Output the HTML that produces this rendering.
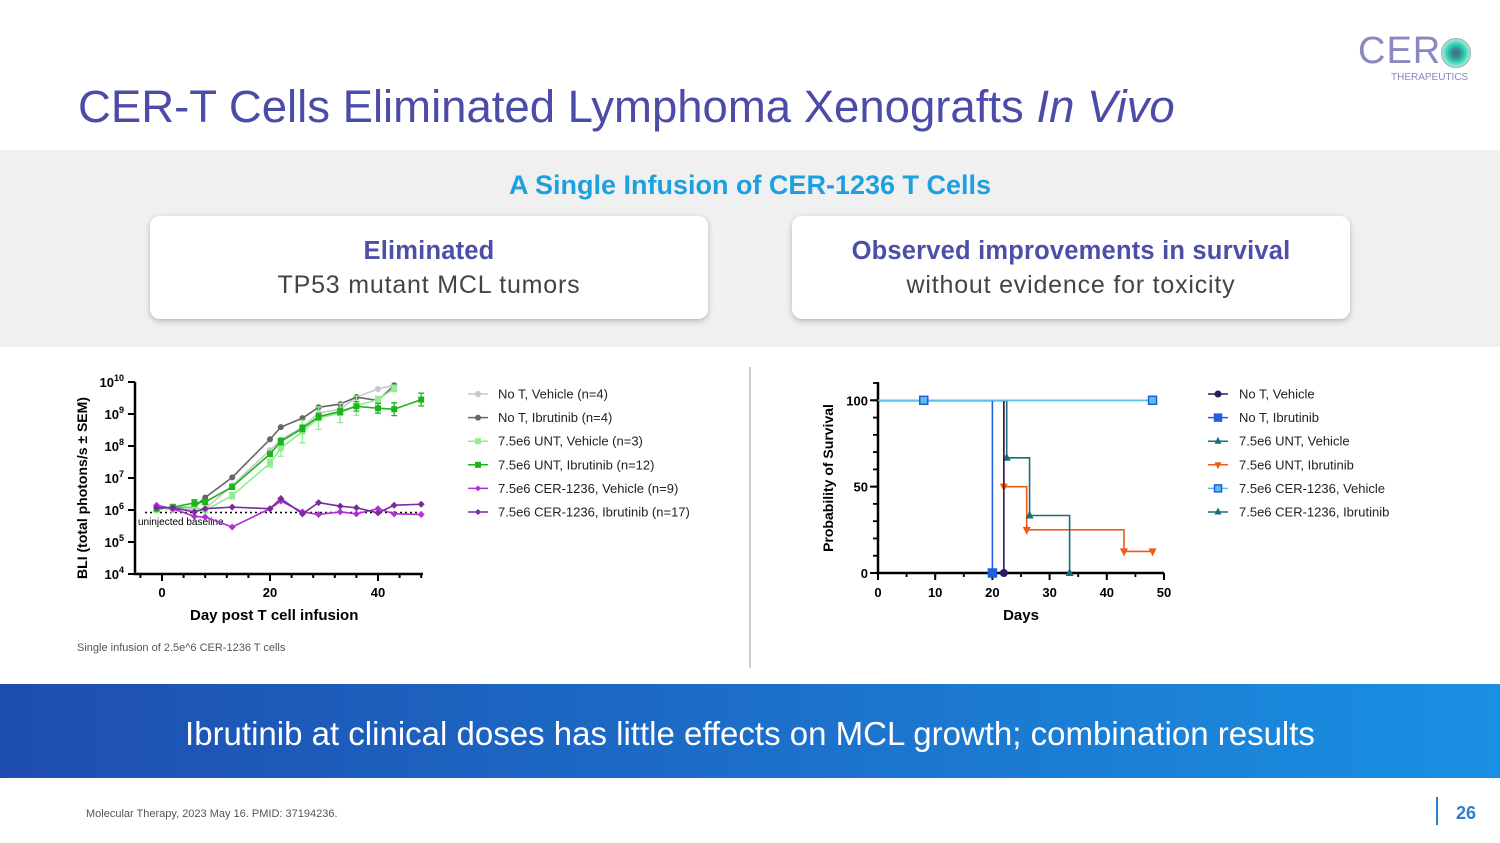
<!DOCTYPE html>
<html><head><meta charset="utf-8">
<style>
body{margin:0;width:1500px;height:843px;position:relative;background:#fff;font-family:"Liberation Sans",sans-serif;overflow:hidden}
.abs{position:absolute}
.card{position:absolute;top:216px;height:103px;width:558px;background:#fff;border-radius:10px;box-shadow:0 2px 6px rgba(0,0,0,.25);text-align:center}
.card .t{color:#4b4fa8;font-weight:bold;font-size:25.5px;margin-top:21px;letter-spacing:0.2px}
.card .s{color:#444;font-size:25px;margin-top:5px;letter-spacing:0.8px}
</style></head><body>
<div class="abs" style="left:78px;top:81px;font-size:45.5px;color:#4b4ba8">CER-T Cells Eliminated Lymphoma Xenografts <i>In Vivo</i></div>
<div class="abs" style="left:1358px;top:34px;width:120px;height:50px">
 <div style="position:absolute;left:0;top:-4px;font-size:38px;color:#8a88c0;letter-spacing:1px">CER</div>
 <div style="position:absolute;left:83px;top:4px;width:28px;height:28px;border-radius:50%;background:radial-gradient(circle,#3a7a8a 15%,#2fd0b0 45%,#bff0e6 75%,#fff 100%);border:1px solid #9aa"></div>
 <div style="position:absolute;left:33px;top:38px;font-size:10px;color:#8a88c0">THERAPEUTICS</div>
</div>
<div class="abs" style="left:0;top:150px;width:1500px;height:197px;background:#f0f0f0"></div>
<div class="abs" style="left:0;top:170px;width:1500px;text-align:center;font-size:27px;font-weight:bold;color:#1ea0e0">A Single Infusion of CER-1236 T Cells</div>
<div class="card" style="left:150px"><div class="t">Eliminated</div><div class="s">TP53 mutant MCL tumors</div></div>
<div class="card" style="left:792px"><div class="t">Observed improvements in survival</div><div class="s">without evidence for toxicity</div></div>
<div class="abs" style="left:749px;top:367px;width:2px;height:301px;background:#ccc"></div>

<svg class="abs" style="left:0;top:0" width="1500" height="843" font-family="Liberation Sans, sans-serif">
<g id="bli"></g>
<g id="surv"></g>
</svg>
<div class="abs" style="left:77px;top:642px;font-size:11px;color:#555">Single infusion of 2.5e^6 CER-1236 T cells</div>
<div class="abs" style="left:0;top:684px;width:1500px;height:94px;background:linear-gradient(90deg,#1e4db0,#1a90e2);color:#fff;font-size:33px;text-align:center;line-height:100px">Ibrutinib at clinical doses has little effects on MCL growth; combination results</div>
<div class="abs" style="left:86px;top:808px;font-size:11px;color:#555">Molecular Therapy, 2023 May 16. PMID: 37194236.</div>
<div class="abs" style="left:1436px;top:797px;width:2px;height:28px;background:#2a7fd0"></div>
<div class="abs" style="left:1456px;top:803px;font-size:18px;font-weight:bold;color:#2a7fd0">26</div>
<script>
const days=[-1,2,6,8,13,20,22,26,29,33,36,40,43,48];
const noTVeh=[6.1,5.99,6.04,6.04,6.77,7.87,8.19,8.59,9.03,9.15,9.53,9.78,9.9,null];
const noTIbr=[6.07,6.07,6.09,6.39,7.02,8.21,8.59,8.87,9.21,9.31,9.53,9.42,9.9,null];
const untVeh=[5.99,6.11,6.09,5.99,6.45,7.46,7.93,8.45,8.87,9.03,9.26,9.45,9.8,null];
const untIbr=[6.04,6.09,6.22,6.25,6.72,7.75,8.14,8.55,8.92,9.08,9.24,9.18,9.15,9.45];
const cerVeh=[6.15,6.04,5.8,5.78,5.47,6.04,6.28,5.94,5.86,5.94,5.88,6.04,5.88,5.86];
const cerIbr=[6.07,6.07,5.94,6.04,6.09,6.04,6.36,5.88,6.23,6.12,6.07,5.91,6.15,6.18];
const untVehErr=[0.05,0.05,0.05,0.05,0.1,0.12,0.25,0.35,0.35,0.3,0.3,0.1,0.1,0];
const untIbrErr=[0.05,0.05,0.1,0.08,0.08,0.08,0.1,0.1,0.1,0.1,0.15,0.15,0.2,0.2];
const baselineLog=5.92;
const bliXTicks=[0,20,40];
const bliYTicks=[4,5,6,7,8,9,10];
const NS='http://www.w3.org/2000/svg';
function mk(p,t,a,txt){const e=document.createElementNS(NS,t);for(const k in a)e.setAttribute(k,a[k]);if(txt!=null)e.textContent=txt;p.appendChild(e);return e;}
const bx=d=>162+d*5.4, by=l=>574-(l-4)*32;
const g=document.getElementById('bli');
let ax=mk(g,'path',{d:`M135 382V574H423`,stroke:'#000','stroke-width':2.5,fill:'none'});

for(let d=-4;d<=48;d+=4){mk(g,'line',{x1:bx(d),x2:bx(d),y1:574,y2:578,stroke:'#000','stroke-width':2});}
bliXTicks.forEach(t=>{mk(g,'line',{x1:bx(t),x2:bx(t),y1:574,y2:581,stroke:'#000','stroke-width':2});
 const e=mk(g,'text',{x:bx(t),y:597,'text-anchor':'middle','font-size':13,'font-weight':'bold'},t);});
bliYTicks.forEach(t=>{mk(g,'line',{x1:128,x2:135,y1:by(t),y2:by(t),stroke:'#000','stroke-width':2});
 const e=mk(g,'text',{x:124,y:by(t)+5,'text-anchor':'end','font-size':13,'font-weight':'bold'},'10');
 mk(e,'tspan',{dy:-6,'font-size':9},String(t));});
let t1=mk(g,'text',{x:190,y:620,'font-size':15,'font-weight':'bold'},'Day post T cell infusion');
let t2=mk(g,'text',{transform:'translate(87,488) rotate(-90)','text-anchor':'middle','font-size':14,'font-weight':'bold'},'BLI (total photons/s ± SEM)');
mk(g,'line',{x1:145,x2:423,y1:by(baselineLog),y2:by(baselineLog),stroke:'#000','stroke-width':1.5,'stroke-dasharray':'2,3'});
let bl=mk(g,'text',{x:138,y:525,'font-size':10},'uninjected baseline');
const series=[
 {n:'No T, Vehicle (n=4)',v:noTVeh,c:'#c8c8c8',m:'c',k:'no-t-vehicle'},
 {n:'No T, Ibrutinib (n=4)',v:noTIbr,c:'#666',m:'c',k:'no-t-ibrutinib'},
 {n:'7.5e6 UNT, Vehicle (n=3)',v:untVeh,c:'#90ee90',m:'s',k:'unt-vehicle',e:untVehErr},
 {n:'7.5e6 UNT, Ibrutinib (n=12)',v:untIbr,c:'#1cb51c',m:'s',k:'unt-ibrutinib',e:untIbrErr},
 {n:'7.5e6 CER-1236, Vehicle (n=9)',v:cerVeh,c:'#b030d8',m:'d',k:'cer-vehicle'},
 {n:'7.5e6 CER-1236, Ibrutinib (n=17)',v:cerIbr,c:'#7a2a9a',m:'d',k:'cer-ibrutinib'}];
function marker(p,m,x,y,c,r){if(m==='c')return mk(p,'circle',{cx:x,cy:y,r:r,fill:c});
 if(m==='s')return mk(p,'rect',{x:x-r,y:y-r,width:2*r,height:2*r,fill:c});
 return mk(p,'path',{d:`M${x} ${y-r}L${x+r} ${y}L${x} ${y+r}L${x-r} ${y}Z`,fill:c});}
series.forEach((s,i)=>{const sg=mk(g,'g',{});
 let d='';days.forEach((dd,j)=>{if(s.v[j]==null)return;d+=(d?'L':'M')+bx(dd)+' '+by(s.v[j]);});
 mk(sg,'path',{d:d,stroke:s.c,'stroke-width':1.6,fill:'none'});
 days.forEach((dd,j)=>{if(s.v[j]==null)return;
  if(s.e&&s.e[j]){mk(sg,'path',{d:`M${bx(dd)} ${by(s.v[j]-s.e[j])}V${by(s.v[j]+s.e[j])}M${bx(dd)-3} ${by(s.v[j]-s.e[j])}h6M${bx(dd)-3} ${by(s.v[j]+s.e[j])}h6`,stroke:s.c,'stroke-width':1.3,fill:'none'});}
  const mm=marker(sg,s.m,bx(dd),by(s.v[j]),s.c,s.m==='d'?3.5:3);});
 const ly=394+i*23.6;const lg=mk(g,'g',{});
 mk(lg,'line',{x1:468,x2:488,y1:ly,y2:ly,stroke:s.c,'stroke-width':1.5});marker(lg,s.m,478,ly,s.c,3);
 mk(lg,'text',{x:498,y:ly+4.5,'font-size':13,fill:'#222'},s.n);});

// survival
const survNames=['No T, Vehicle','No T, Ibrutinib','7.5e6 UNT, Vehicle','7.5e6 UNT, Ibrutinib','7.5e6 CER-1236, Vehicle','7.5e6 CER-1236, Ibrutinib'];
const survTimes=[[0,22],[0,20],[0,22.5,26.5,33.5],[0,22,26,43,48],[0,48],[0,48]];
const survProbs=[[100,0],[100,0],[100,66.7,33.3,0],[100,50,25,12.5,12.5],[100,100],[100,100]];
const survMarkTimes=[[22],[20],[22.5,26.5,33.5],[22,26,43,48],[8,48],[8,48]];
const survXTicks=[0,10,20,30,40,50];
const survYTicks=[0,50,100];
const sx=t=>878+t*5.72, sy=p=>573-p*1.727;
const h=document.getElementById('surv');
mk(h,'path',{d:`M878 382V573H1164`,stroke:'#000','stroke-width':2.5,fill:'none'});
for(let p=0;p<=110;p+=10)mk(h,'line',{x1:873,x2:878,y1:sy(p),y2:sy(p),stroke:'#000','stroke-width':1.8});
for(let t=0;t<=50;t+=5)mk(h,'line',{x1:sx(t),x2:sx(t),y1:573,y2:577,stroke:'#000','stroke-width':1.8});
survXTicks.forEach(t=>{mk(h,'line',{x1:sx(t),x2:sx(t),y1:573,y2:580,stroke:'#000','stroke-width':2});const e=mk(h,'text',{x:sx(t),y:597,'text-anchor':'middle','font-size':13,'font-weight':'bold'},t);});
survYTicks.forEach(t=>{mk(h,'line',{x1:870,x2:878,y1:sy(t),y2:sy(t),stroke:'#000','stroke-width':2});const e=mk(h,'text',{x:868,y:sy(t)+5,'text-anchor':'end','font-size':13,'font-weight':'bold'},t);});
let t3=mk(h,'text',{x:1021,y:620,'text-anchor':'middle','font-size':15,'font-weight':'bold'},'Days');
let t4=mk(h,'text',{transform:'translate(833,478) rotate(-90)','text-anchor':'middle','font-size':14,'font-weight':'bold'},'Probability of Survival');
const sc=['#2e1a5e','#1f5fe0','#1a6e7a','#f05a14','#5bc0e8','#1a6e7a'];
const sm=['c','s','t','v','s','t'];
const sk=['no-t-vehicle','no-t-ibrutinib','unt-vehicle','unt-ibrutinib','cer-vehicle','cer-ibrutinib'];
function smark(p,m,x,y,c,r){if(m==='c')return mk(p,'circle',{cx:x,cy:y,r:r,fill:c});
 if(m==='s')return mk(p,'rect',{x:x-r,y:y-r,width:2*r,height:2*r,fill:c,stroke:'#1f5fe0','stroke-width':1.5});
 if(m==='t')return mk(p,'path',{d:`M${x} ${y-r-1}L${x+r} ${y+r-1}L${x-r} ${y+r-1}Z`,fill:c});
 return mk(p,'path',{d:`M${x} ${y+r+1}L${x+r} ${y-r+1}L${x-r} ${y-r+1}Z`,fill:c});}
function probAt(i,t){let p=survProbs[i][0];survTimes[i].forEach((tt,j)=>{if(tt<=t)p=survProbs[i][j];});return p;}
[3,2,0,1,5,4].forEach(i=>{const sg=mk(h,'g',{});
 const T=survTimes[i],P=survProbs[i];let d=`M${sx(T[0])} ${sy(P[0])}`;
 for(let j=1;j<T.length;j++){d+=`H${sx(T[j])}V${sy(P[j])}`;}
 mk(sg,'path',{d:d,stroke:sc[i],'stroke-width':1.6,fill:'none'});
 survMarkTimes[i].forEach(t=>{const mm=smark(sg,sm[i],sx(t),sy(probAt(i,t)),sc[i],4);});});
survNames.forEach((n,i)=>{const ly=394+i*23.6;const lg=mk(h,'g',{});
 mk(lg,'line',{x1:1208,x2:1228,y1:ly,y2:ly,stroke:sc[i],'stroke-width':1.5});smark(lg,sm[i],1218,ly,sc[i],3.5);
 mk(lg,'text',{x:1239,y:ly+4.5,'font-size':13,fill:'#222'},n);});
</script>
</body></html>
